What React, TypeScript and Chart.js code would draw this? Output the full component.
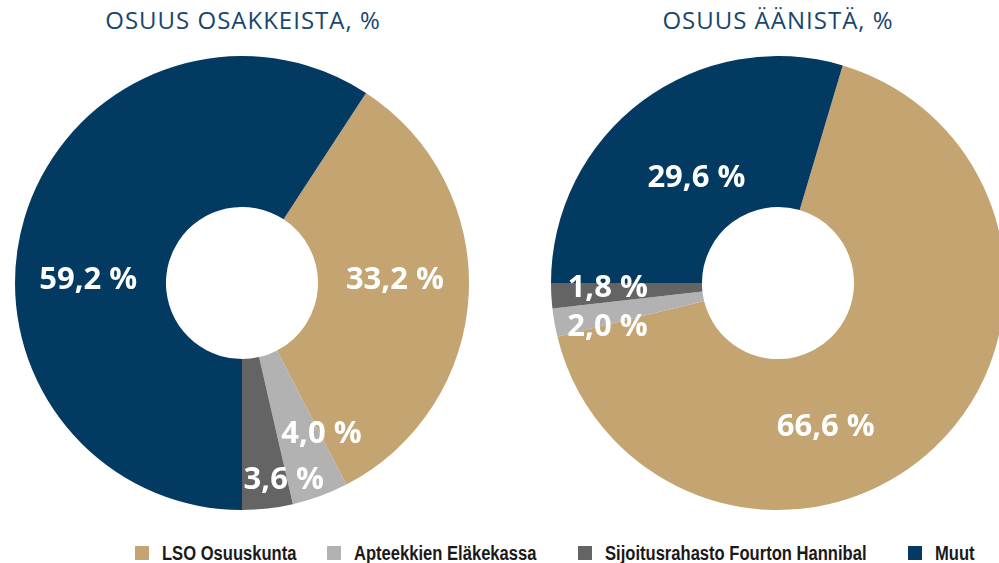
import React, { useEffect, useRef } from "react";
import { Chart, registerables } from "chart.js";

Chart.register(...registerables);

// ---- data ----
const categories = [
  "LSO Osuuskunta",
  "Apteekkien Eläkekassa",
  "Sijoitusrahasto Fourton Hannibal",
  "Muut",
];
const shareOfStock = [33.2, 4.0, 3.6, 59.2];
const shareOfVotes = [66.6, 2.0, 1.8, 29.6];
const chartTitles = ["OSUUS OSAKKEISTA, %", "OSUUS ÄÄNISTÄ, %"];

// ---- style ----
const sliceColors = ["#c4a572", "#b2b2b2", "#646464", "#033a61"];
const titleColor = "#17466f";
const labelFontSize = 31;
const labelFont = `bold ${labelFontSize}px 'Open Sans', sans-serif`;
const legendItemLeft = [135, 327, 578, 908];

// per-slice label placement: angle shift from slice middle (deg) and radius fraction
const stockLabelPlacement = [
  { shift: -5, r: 0.674 },
  { shift: -8, r: 0.742 },
  { shift: -5.6, r: 0.878 },
  { shift: -14.5, r: 0.678 },
];
const votesLabelPlacement = [
  { shift: 25, r: 0.66 },
  { shift: -3.6, r: 0.773 },
  { shift: 2.2, r: 0.75 },
  { shift: -0.6, r: 0.593 },
];

const fmt = (v: number) => v.toFixed(1).replace(".", ",") + " %";

const sliceLabelPlugin = {
  id: "sliceLabels",
  afterDatasetsDraw(chart: any, _args: any, opts: any) {
    const meta = chart.getDatasetMeta(0);
    const data = chart.data.datasets[0].data as number[];
    const ctx = chart.ctx as CanvasRenderingContext2D;
    ctx.save();
    ctx.font = labelFont;
    ctx.fillStyle = "#ffffff";
    ctx.textAlign = "center";
    ctx.textBaseline = "alphabetic";
    const capHalf = (labelFontSize * 0.72) / 2;
    meta.data.forEach((arc: any, i: number) => {
      const p = arc.getProps(["x", "y", "startAngle", "endAngle", "outerRadius"], true);
      const pl = opts.placement[i];
      const a = (p.startAngle + p.endAngle) / 2 + (pl.shift * Math.PI) / 180;
      const r = p.outerRadius * pl.r;
      ctx.fillText(fmt(data[i]), p.x + r * Math.cos(a), p.y + r * Math.sin(a) + capHalf);
    });
    ctx.restore();
  },
};

function Donut({
  values,
  placement,
  anchorDeg,
  left,
}: {
  values: number[];
  placement: { shift: number; r: number }[];
  anchorDeg: number;
  left: number;
}) {
  const ref = useRef<HTMLCanvasElement | null>(null);
  useEffect(() => {
    if (!ref.current) return;
    const total = values.reduce((s, v) => s + v, 0);
    const before = values.slice(0, 3).reduce((s, v) => s + v, 0);
    const rotation = anchorDeg - (before / total) * 360;
    const chart = new Chart(ref.current, {
      type: "doughnut",
      data: {
        labels: categories,
        datasets: [
          {
            data: values,
            backgroundColor: sliceColors,
            borderWidth: 0,
            hoverOffset: 0,
          },
        ],
      },
      options: {
        responsive: false,
        animation: false,
        rotation,
        cutout: "33.5%",
        layout: { padding: 0 },
        plugins: {
          legend: { display: false },
          tooltip: { enabled: false },
          title: { display: false },
          sliceLabels: { placement },
        } as any,
      },
      plugins: [sliceLabelPlugin],
    });
    return () => chart.destroy();
  }, []);
  return (
    <canvas
      ref={ref}
      width={454}
      height={454}
      style={{ position: "absolute", left, top: 56, width: 454, height: 454 }}
    />
  );
}

export default function App() {
  const titleStyle = (center: number): React.CSSProperties => ({
    position: "absolute",
    left: center - 200,
    width: 400,
    top: 8,
    textAlign: "center",
    fontFamily: "'Open Sans', sans-serif",
    fontWeight: 400,
    fontSize: 24,
    lineHeight: "24px",
    letterSpacing: "1px",
    color: titleColor,
    whiteSpace: "nowrap",
  });
  return (
    <div
      style={{
        position: "fixed",
        left: 0,
        top: 0,
        width: 999,
        height: 563,
        overflow: "hidden",
        background: "#ffffff",
      }}
    >
      <div style={titleStyle(243)}>{chartTitles[0]}</div>
      <div style={titleStyle(778)}>{chartTitles[1]}</div>
      <Donut values={shareOfStock} placement={stockLabelPlacement} anchorDeg={180} left={15} />
      <Donut values={shareOfVotes} placement={votesLabelPlacement} anchorDeg={270} left={551} />
      {categories.map((c, i) => (
        <React.Fragment key={c}>
          <span
            style={{
              position: "absolute",
              left: legendItemLeft[i],
              top: 546,
              width: 14,
              height: 14,
              background: sliceColors[i],
            }}
          />
          <span
            style={{
              position: "absolute",
              left: legendItemLeft[i] + 27,
              top: 544,
              fontFamily: "'Liberation Sans', Arial, sans-serif",
              fontWeight: 700,
              fontSize: 19.5,
              lineHeight: "19.5px",
              color: "#1a1a1a",
              whiteSpace: "nowrap",
              transform: "scaleX(0.85)",
              transformOrigin: "0 0",
            }}
          >
            {c}
          </span>
        </React.Fragment>
      ))}
    </div>
  );
}
